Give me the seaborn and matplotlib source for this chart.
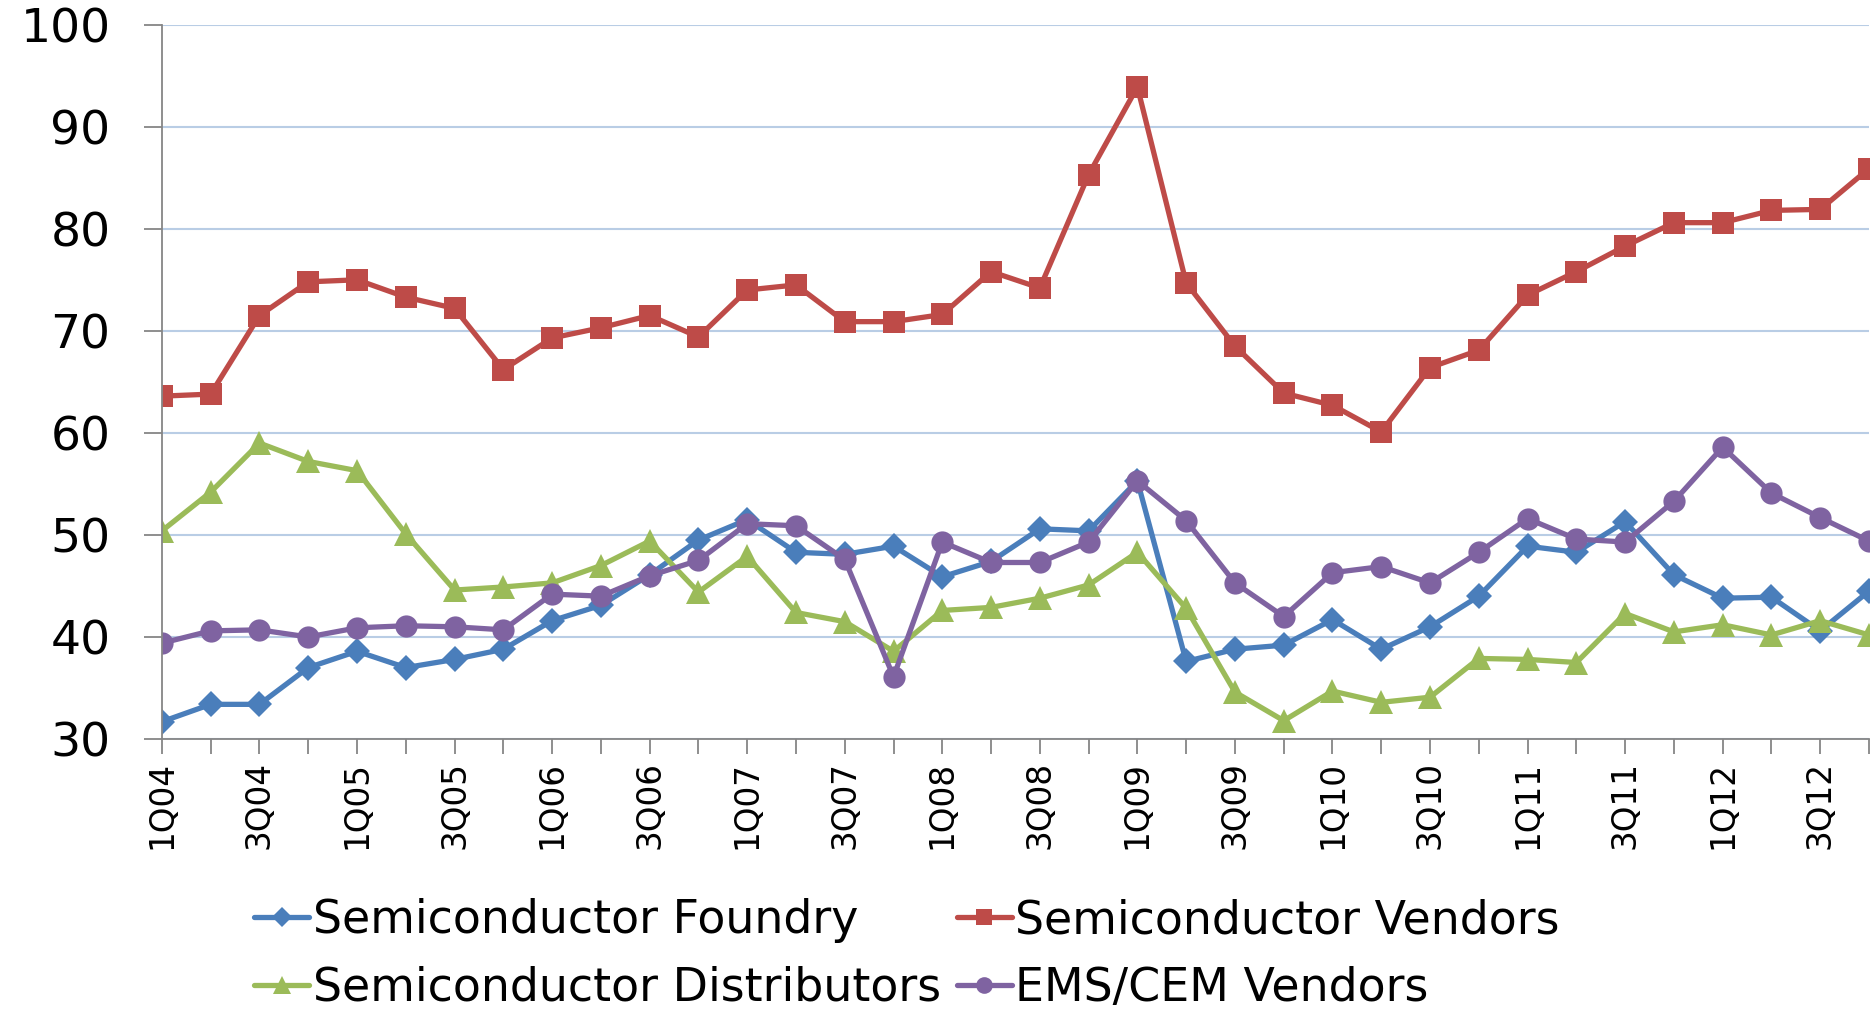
import matplotlib
matplotlib.use("Agg")
import matplotlib.pyplot as plt
import seaborn as sns
import pandas as pd
import numpy as np

quarters = [f"{q}Q{y:02d}" for y in range(4, 13) for q in range(1, 5)]

foundry = [31.7, 33.4, 33.4, 37.0, 38.6, 37.0, 37.8, 38.8, 41.6, 43.1, 46.1, 49.5,
           51.5, 48.3, 48.1, 48.9, 45.9, 47.4, 50.6, 50.4, 55.3, 37.6, 38.8, 39.2,
           41.7, 38.8, 41.0, 44.0, 48.9, 48.3, 51.3, 46.1, 43.8, 43.9, 40.6, 44.5]
vendors = [63.6, 63.8, 71.5, 74.8, 75.0, 73.3, 72.2, 66.2, 69.3, 70.3, 71.5, 69.4,
           74.0, 74.5, 70.9, 70.9, 71.6, 75.8, 74.2, 85.3, 93.9, 74.7, 68.5, 63.9,
           62.7, 60.1, 66.4, 68.1, 73.5, 75.8, 78.3, 80.6, 80.6, 81.8, 81.9, 85.9]
distributors = [50.4, 54.2, 59.0, 57.2, 56.3, 50.1, 44.6, 44.9, 45.3, 47.0, 49.4, 44.4,
                47.9, 42.4, 41.5, 38.6, 42.6, 42.9, 43.8, 45.1, 48.3, 42.8, 34.6, 31.8,
                34.7, 33.6, 34.1, 37.9, 37.8, 37.5, 42.3, 40.5, 41.2, 40.2, 41.6, 40.2]
ems = [39.4, 40.6, 40.7, 40.0, 40.9, 41.1, 41.0, 40.7, 44.2, 44.0, 46.0, 47.5,
       51.1, 50.9, 47.6, 36.1, 49.3, 47.3, 47.3, 49.3, 55.3, 51.4, 45.3, 42.0,
       46.3, 46.9, 45.3, 48.3, 51.6, 49.6, 49.3, 53.3, 58.6, 54.1, 51.7, 49.4]

series_names = ["Semiconductor Foundry", "Semiconductor Vendors",
                "Semiconductor Distributors", "EMS/CEM Vendors"]
series_values = [foundry, vendors, distributors, ems]
colors = ["#4A7EBB", "#BE4B48", "#9BBB59", "#7F63A1"]
markers = ["D", "s", "^", "o"]
msizes = [13, 16, 17, 16]

sns.set_style("white")
plt.rcParams['font.family'] = ['DejaVu Sans']
plt.rcParams['text.color'] = 'black'
plt.rcParams['xtick.color'] = 'black'
plt.rcParams['ytick.color'] = 'black'

fig = plt.figure(figsize=(18.72, 10.11), dpi=100)
ax = fig.add_axes([0.0865, 0.269, 0.9119, 0.7066])

idx = np.arange(len(quarters))
for name, vals, c, m, ms in zip(series_names, series_values, colors, markers, msizes):
    df = pd.DataFrame({"x": idx, "y": vals})
    sns.lineplot(data=df, x="x", y="y", ax=ax, color=c, marker=m, markersize=ms,
                 markeredgewidth=0, linewidth=3.8, label=name, clip_on=True)

ax.set_xlim(0, len(quarters) - 1)
ax.set_ylim(30, 100)
ax.set_yticks(range(30, 101, 10))
ax.set_xticks(idx)
ax.set_xticklabels([q if i % 2 == 0 else "" for i, q in enumerate(quarters)],
                   rotation=90, fontsize=23.5)
ax.tick_params(axis='y', labelsize=34, length=13, width=1.3, color="#868686",
               labelcolor="black", direction='out', pad=24, left=True)
ax.tick_params(axis='x', length=11, width=1.3, color="#868686", labelcolor="black",
               direction='out', pad=5, bottom=True)
ax.set_xlabel("")
ax.set_ylabel("")
ax.yaxis.grid(True, color="#B9CDE5", linewidth=1.5)
ax.xaxis.grid(False)
for s in ["top", "right"]:
    ax.spines[s].set_visible(False)
for s in ["left", "bottom"]:
    ax.spines[s].set_color("#868686")
    ax.spines[s].set_linewidth(1.3)

h, l = ax.get_legend_handles_labels()
ax.get_legend().remove()
order = [0, 2, 1, 3]
fig.legend([h[i] for i in order], [l[i] for i in order], ncol=2, loc='upper left',
           bbox_to_anchor=(254 / 1872, 1 - 898 / 1011), frameon=False,
           fontsize=33, handlelength=1.2, handletextpad=0.08, columnspacing=0.35,
           labelspacing=0.5, borderpad=0, borderaxespad=0, markerscale=0.75)

fig.savefig("out.png", dpi=100)
